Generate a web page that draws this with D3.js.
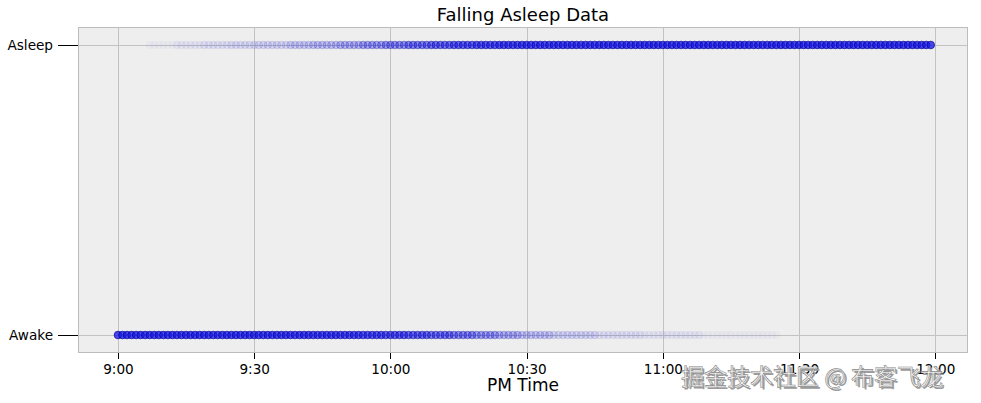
<!DOCTYPE html>
<html>
<head>
<meta charset="UTF-8">
<title>Falling Asleep Data</title>
<style>
    body { margin: 0; background: #fff; font-family: 'DejaVu Sans', sans-serif; }
    .grid line { stroke: #c2c2c2; stroke-width: 1; shape-rendering: crispEdges; }
    .axis text { font-family: 'DejaVu Sans', sans-serif; font-size: 13.6px; fill: #000; }
    .axis path { display: none; }
    .axis line { stroke: #000; shape-rendering: crispEdges; }
    .watermark { font-family: 'Noto Sans CJK SC', sans-serif; font-size: 23px; }
</style>
</head>
<body>
<script src="https://d3js.org/d3.v7.min.js"></script>
<script>
// data: minutes after 9:00 PM, number of nights (out of 63) already asleep at that minute
var nights = 63;
var asleepCount = [
    0,0,0,0,0,0,0,1,1,1,
    1,1,1,2,2,2,2,2,2,3,
    3,3,3,3,3,4,4,4,4,4,
    4,5,5,5,5,5,5,5,7,7,
    7,7,7,9,9,9,9,9,9,12,
    12,12,12,12,16,16,16,16,16,21,
    21,21,21,21,27,27,27,27,27,33,
    33,33,33,33,40,40,40,40,40,46,
    46,46,46,46,51,51,51,51,51,55,
    55,55,55,55,55,55,58,58,58,58,
    58,58,58,58,58,58,60,60,60,60,
    60,60,60,60,60,60,61,61,61,61,
    61,61,61,61,61,61,61,61,61,62,
    62,62,62,62,62,62,62,62,62,62,
    62,62,62,62,62,62,63,63,63,63,
    63,63,63,63,63,63,63,63,63,63,
    63,63,63,63,63,63,63,63,63,63,
    63,63,63,63,63,63,63,63,63,63
];
var xTickValues = [0, 30, 60, 90, 120, 150, 180];
var xTickLabels = ["9:00", "9:30", "10:00", "10:30", "11:00", "11:30", "12:00"];
var yTickValues = [0, 1];
var yTickLabels = ["Awake", "Asleep"];
var pointAlpha = 0.01;

var width = 981, height = 403;
var plot = {left: 78, right: 968, top: 27, bottom: 353};

var svg = d3.select("body").append("svg")
    .attr("width", width)
    .attr("height", height);

var x = d3.scaleLinear().domain([-8.8, 187.2]).range([plot.left, plot.right]);
var y = d3.scaleLinear().domain([-0.062, 1.062]).range([plot.bottom, plot.top]);

// background
svg.append("rect")
    .attr("x", plot.left).attr("y", plot.top)
    .attr("width", plot.right - plot.left)
    .attr("height", plot.bottom - plot.top)
    .attr("fill", "#eeeeee");

// grid
var grid = svg.append("g").attr("class", "grid");
grid.selectAll("line.v").data(xTickValues).enter().append("line")
    .attr("class", "v")
    .attr("x1", function(d) { return Math.round(x(d)) + 0.5; })
    .attr("x2", function(d) { return Math.round(x(d)) + 0.5; })
    .attr("y1", plot.top).attr("y2", plot.bottom);
grid.selectAll("line.h").data(yTickValues).enter().append("line")
    .attr("class", "h")
    .attr("y1", function(d) { return Math.round(y(d)) + 0.5; })
    .attr("y2", function(d) { return Math.round(y(d)) + 0.5; })
    .attr("x1", plot.left).attr("x2", plot.right);

// points: one circle per minute per state, opacity from stacked alpha
var points = [];
asleepCount.forEach(function(n, m) {
    if (n > 0) points.push({minute: m, state: 1, count: n});
    if (nights - n > 0) points.push({minute: m, state: 0, count: nights - n});
});

function opacity(d) { return 1 - Math.pow(1 - pointAlpha, d.count * 2.4); }

svg.append("g").selectAll("circle").data(points).enter().append("circle")
    .attr("cx", function(d) { return x(d.minute); })
    .attr("cy", function(d) { return y(d.state); })
    .attr("r", 3.8)
    .attr("fill", "#1a1ae6")
    .attr("fill-opacity", opacity)
    .attr("stroke", "#00009a")
    .attr("stroke-width", 0.9)
    .attr("stroke-opacity", opacity);

// frame
svg.append("rect")
    .attr("x", plot.left + 0.5).attr("y", plot.top + 0.5)
    .attr("width", plot.right - plot.left - 1)
    .attr("height", plot.bottom - plot.top - 1)
    .attr("fill", "none")
    .attr("stroke", "#bcbcbc");

// axes
var xAxis = d3.axisBottom(x)
    .tickValues(xTickValues)
    .tickSize(6)
    .tickPadding(5)
    .tickFormat(function(d, i) { return xTickLabels[i]; });
svg.append("g").attr("class", "axis")
    .attr("transform", "translate(0," + plot.bottom + ")")
    .call(xAxis);

var yAxis = d3.axisLeft(y)
    .tickValues(yTickValues)
    .tickSize(20)
    .tickPadding(5)
    .tickFormat(function(d, i) { return yTickLabels[i]; });
svg.append("g").attr("class", "axis")
    .attr("transform", "translate(" + plot.left + ",0)")
    .call(yAxis);

// titles
svg.append("text")
    .attr("x", (plot.left + plot.right) / 2)
    .attr("y", 21)
    .attr("text-anchor", "middle")
    .attr("font-size", "18px")
    .text("Falling Asleep Data");

svg.append("text")
    .attr("x", (plot.left + plot.right) / 2)
    .attr("y", 391)
    .attr("text-anchor", "middle")
    .attr("font-size", "17px")
    .text("PM Time");

// watermark
var wm = svg.append("g").attr("class", "watermark");
wm.append("text")
    .attr("x", 683).attr("y", 387)
    .attr("fill", "#9a9a9a")
    .text("掘金技术社区 @ 布客飞龙");
wm.append("text")
    .attr("x", 681).attr("y", 385)
    .attr("fill", "#f6f6f6")
    .attr("stroke", "#8a8a8a")
    .attr("stroke-width", 0.6)
    .text("掘金技术社区 @ 布客飞龙");
</script>
</body>
</html>
